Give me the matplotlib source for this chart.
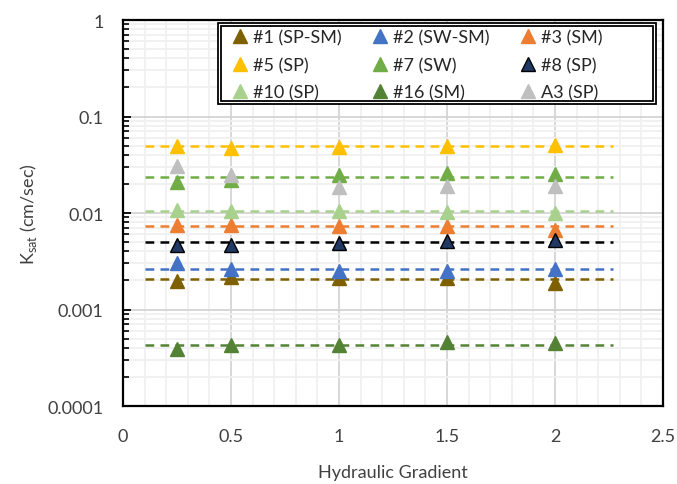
import numpy as np
import matplotlib
matplotlib.use("Agg")
import matplotlib.pyplot as plt
from matplotlib.patches import Rectangle
from matplotlib.ticker import LogLocator, MultipleLocator, NullFormatter, FixedLocator, FixedFormatter

plt.rcParams['font.family'] = ['Lato', 'DejaVu Sans']
plt.rcParams['mathtext.fontset'] = 'custom'
plt.rcParams['mathtext.rm'] = 'Lato'

# hydraulic gradients tested
gradient = [0.25, 0.5, 1.0, 1.5, 2.0]

samples = ['#1 (SP-SM)', '#2 (SW-SM)', '#3 (SM)', '#5 (SP)', '#7 (SW)',
           '#8 (SP)', '#10 (SP)', '#16 (SM)', 'A3 (SP)']

k1 = [0.00197, 0.00216, 0.0021, 0.0021, 0.0019]
k2 = [0.0030, 0.0026, 0.00252, 0.0025, 0.0026]
k3 = [0.0075, 0.0075, 0.0074, 0.0074, 0.0067]
k5 = [0.050, 0.0475, 0.0487, 0.049, 0.0507]
k7 = [0.0208, 0.0221, 0.0248, 0.026, 0.0255]
k8 = [0.0047, 0.0047, 0.0049, 0.00516, 0.0052]
k10 = [0.0107, 0.0104, 0.0105, 0.0102, 0.0100]
k16 = [0.00039, 0.00043, 0.00043, 0.000457, 0.00045]
kA3 = [0.031, 0.0248, 0.0185, 0.0192, 0.0192]

# average (dashed) lines
k_avg = [0.00207, 0.00263, 0.0074, 0.049, 0.0236, 0.00497, 0.0105, 0.000429, None]
avg_x = [0.1, 2.27]

colors = ['#7F6000', '#4472C4', '#ED7D31', '#FFC000', '#70AD47',
          '#1F3864', '#A9D18E', '#548235', '#BFBFBF']
line_colors = ['#7F6000', '#4472C4', '#ED7D31', '#FFC000', '#70AD47',
               '#000000', '#A9D18E', '#548235', '#BFBFBF']

data = [k1, k2, k3, k5, k7, k8, k10, k16, kA3]

fig = plt.figure(figsize=(6.77, 4.85), dpi=100)
ax = fig.add_axes([0.1817, 0.1608, 0.7977, 0.7959])

handles = []
for i, vals in enumerate(data):
    if k_avg[i] is not None:
        ax.plot(avg_x, [k_avg[i], k_avg[i]], ls=(0, (3.5, 2.5)), color=line_colors[i],
                lw=1.8, zorder=2)
for i, vals in enumerate(data):
    edge = 'black' if samples[i] == '#8 (SP)' else colors[i]
    h, = ax.plot(gradient, vals, ls='none', marker='^', ms=9.5, color=colors[i],
                 mec=edge, mew=1.0, label=samples[i], zorder=3)
    handles.append(h)

ax.set_yscale('log')
ax.set_ylim(0.0001, 1)
ax.set_xlim(0, 2.5)

ax.yaxis.set_major_locator(FixedLocator([0.0001, 0.001, 0.01, 0.1, 1]))
ax.yaxis.set_major_formatter(FixedFormatter(['0.0001', '0.001', '0.01', '0.1', '1']))
ax.yaxis.set_minor_locator(LogLocator(base=10, subs=np.arange(2, 10)))
ax.yaxis.set_minor_formatter(NullFormatter())
ax.xaxis.set_minor_locator(MultipleLocator(0.1))
ax.set_xticks([0, 0.5, 1, 1.5, 2, 2.5])
ax.set_xticklabels(['0', '0.5', '1', '1.5', '2', '2.5'])

ax.grid(which='major', color='#D4D4D4', lw=1.3, zorder=0)
ax.grid(which='minor', color='#F0F0F0', lw=1.3, zorder=0)
ax.set_axisbelow(True)

ax.tick_params(axis='x', which='both', length=0, labelsize=13, pad=16, colors='#404040')
ax.tick_params(axis='y', which='major', direction='in', length=6, width=1.3,
               labelsize=13, pad=14, labelcolor='#404040')
ax.tick_params(axis='y', which='minor', direction='in', length=4, width=1.2)
for s in ax.spines.values():
    s.set_linewidth(1.6)
    s.set_color('black')

ax.set_xlabel('Hydraulic Gradient', fontsize=13, color='#404040', labelpad=14)
ax.set_ylabel('K$_{\\mathrm{sat}}$ (cm/sec)', fontsize=13, color='#404040', labelpad=6)

# legend box with double border (drawn by hand, like the Excel original)
box_x0, box_x1, box_y0, box_y1 = 0.176, 0.987, 0.782, 0.992
ax.add_patch(Rectangle((box_x0, box_y0), box_x1 - box_x0, box_y1 - box_y0,
                       transform=ax.transAxes, fc='white', ec='black', lw=1.3, zorder=5))
dx, dy = 3 / 539, 3 / 386
ax.add_patch(Rectangle((box_x0 + dx, box_y0 + dy), box_x1 - box_x0 - 2 * dx,
                       box_y1 - box_y0 - 2 * dy, transform=ax.transAxes,
                       fill=False, ec='black', lw=1.3, zorder=5))

# legend rows: matplotlib fills by column, so reorder
order = [0, 3, 6, 1, 4, 7, 2, 5, 8]
leg = ax.legend([handles[j] for j in order], [samples[j] for j in order],
                ncol=3, loc='upper left', bbox_to_anchor=(0.195, 0.99),
                fontsize=13, handlelength=0.7, handletextpad=0.35,
                borderpad=0.3, labelspacing=0.64, frameon=False,
                borderaxespad=0, columnspacing=1.8)
leg.set_zorder(6)
for t in leg.get_texts():
    t.set_color('#262626')

fig.savefig('out.png', dpi=100)
